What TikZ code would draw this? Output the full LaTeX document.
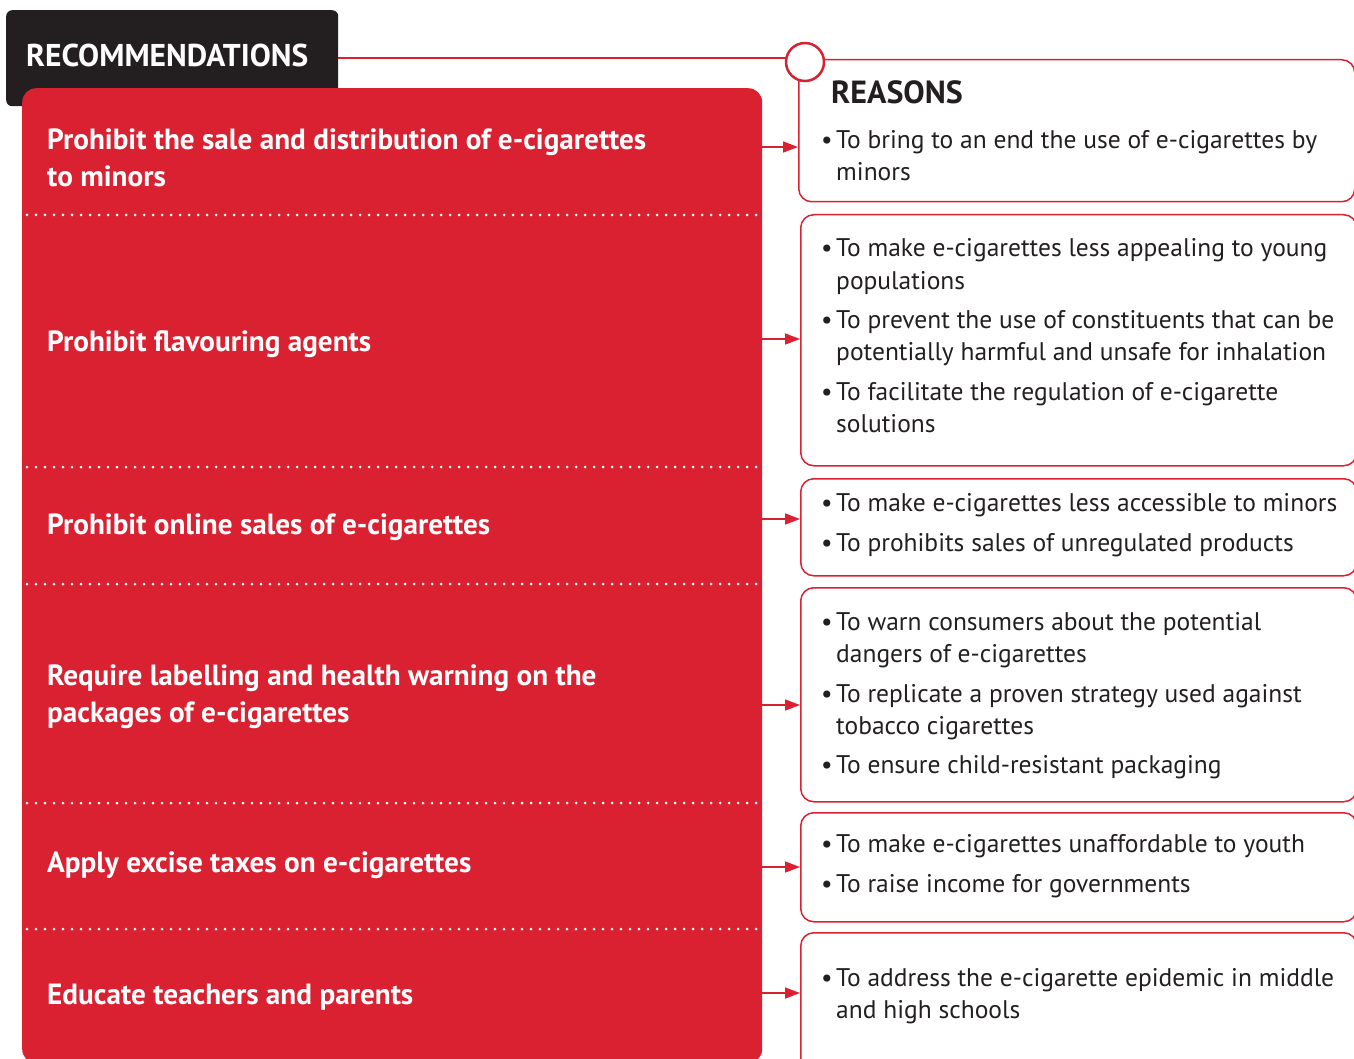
\documentclass[tikz,border=0pt]{standalone}
\usepackage{fontspec}
\setmainfont{PT Sans}
\usetikzlibrary{arrows.meta}
\definecolor{recred}{HTML}{DA2131}
\definecolor{inkgray}{HTML}{231F20}

\begin{document}
\begin{tikzpicture}[x=1pt,y=-1pt,
  rtext/.style={anchor=base west,inner sep=0pt,text=inkgray,font=\fontsize{25.5}{30}\selectfont},
  ltext/.style={anchor=base west,inner sep=0pt,text=white,font=\bfseries\fontsize{29.2}{32}\selectfont},
  rbox/.style={draw=recred,line width=1.5pt,rounded corners=13pt,anchor=north west,minimum width=556pt,inner sep=0pt},
  dotline/.style={white,line width=3pt,line cap=round,dash pattern=on 0pt off 9pt},
  arr/.style={recred,line width=1.5pt,-{Triangle[length=15pt,width=11pt]}}]
\useasboundingbox (0,0) rectangle (1354,1059);
\clip (0,0) rectangle (1354,1059);
% header tab and red panel
\node[fill=inkgray,rounded corners=6pt,anchor=north west,minimum width=332pt,minimum height=96pt,inner sep=0pt] (tab) at (6,10) {};
\node[text=white,font=\bfseries\fontsize{31.5}{32}\selectfont,anchor=base west,inner sep=0pt] (rec) at (26,67) {RECOMMENDATIONS};
\node[fill=recred,rounded corners=14pt,anchor=north west,minimum width=740pt,minimum height=975pt,inner sep=0pt] (panel) at (22,88) {};
\foreach \y in {215,467,584,803,929}
\draw[dotline] (27,\y) -- (760,\y);
% reason boxes
\node[rbox,minimum height=142pt] (r1) at (798,59) {};
\node[rbox,minimum height=251pt] (r2) at (800,214) {};
\node[rbox,minimum height=97pt] (r3) at (800,478) {};
\node[rbox,minimum height=214pt] (r4) at (800,587) {};
\node[rbox,minimum height=109pt] (r5) at (800,812) {};
\node[rbox,minimum height=160pt] (r6) at (800,932) {};
\coordinate (hl) at (338,58);
\draw[recred,line width=1.5pt] (hl) -- (hl -| 805,62);
\node[circle,draw=recred,fill=white,line width=2.5pt,minimum size=38pt,inner sep=0pt] (circ) at (805,62) {};
\node[text=inkgray,font=\bfseries\fontsize{32}{32}\selectfont,anchor=base west,inner sep=0pt] (reasons) at (831,104) {REASONS};
% arrows
\foreach \i/\y in {1/147,2/339,3/519,4/705,5/867,6/993}
\draw[arr] (panel.east |- 0,\y) -- (r\i.west |- 0,\y);
% recommendations
\foreach \y/\t [count=\k] in {150/Prohibit the sale and distribution of e-cigarettes,187/to minors,
  351/Prohibit flavouring agents,534/Prohibit online sales of e-cigarettes,
  685/Require labelling and health warning on the,722/packages of e-cigarettes,
  872/Apply excise taxes on e-cigarettes,1004/Educate teachers and parents}
\node[ltext] (s\k) at (47,\y) {\t};
% reasons
\foreach \y [count=\k] in {149,257,328,400,511,551,630,702,773,852,892,986}
\node[rtext] (b\k) at (821,\y) {\textbullet};
\foreach \y/\t [count=\k] in {149/To bring to an end the use of e-cigarettes by,181/minors,
  257/To make e-cigarettes less appealing to young,289/populations,
  328/To prevent the use of constituents that can be,360/potentially harmful and unsafe for inhalation,
  400/To facilitate the regulation of e-cigarette,432/solutions,
  511/To make e-cigarettes less accessible to minors,551/To prohibits sales of unregulated products,
  630/To warn consumers about the potential,662/dangers of e-cigarettes,
  702/To replicate a proven strategy used against,734/tobacco cigarettes,
  773/To ensure child-resistant packaging,
  852/To make e-cigarettes unaffordable to youth,892/To raise income for governments,
  986/To address the e-cigarette epidemic in middle,1018/and high schools}
\node[rtext] (q\k) at (836,\y) {\t};
\end{tikzpicture}
\end{document}
